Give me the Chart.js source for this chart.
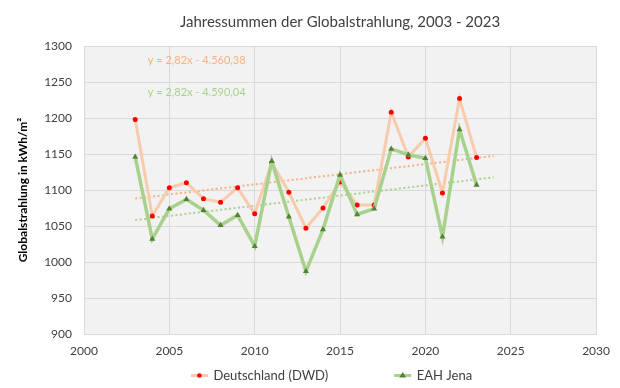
<!DOCTYPE html>
<html>
<head>
<meta charset="utf-8">
<script src="https://cdn.jsdelivr.net/npm/chart.js@4"></script>
<style>
  html, body { margin: 0; padding: 0; background: #fff; }
  #wrap { width: 620px; height: 388px; }
</style>
</head>
<body>
<div id="wrap"><canvas id="myChart" width="620" height="388"></canvas></div>
<script>
// values
var years = [2003, 2004, 2005, 2006, 2007, 2008, 2009, 2010, 2011, 2012, 2013,
             2014, 2015, 2016, 2017, 2018, 2019, 2020, 2021, 2022, 2023];
var dwd = [1198, 1064, 1103, 1110, 1088, 1083, 1103, 1067, 1138, 1097, 1047,
           1075, 1111, 1079, 1079, 1208, 1146, 1172, 1096, 1227, 1145];
var eah = [1146, 1032, 1074, 1087, 1072, 1051, 1065, 1022, 1140, 1063, 987,
           1045, 1121, 1066, 1074, 1157, 1149, 1144, 1035, 1184, 1107];
// linear trend lines (end points, from the equations shown)
var trendYears = [2003, 2024];
var dwdTrend = [1088.1, 1147.3];
var eahTrend = [1058.4, 1117.6];
var dwdEquation = 'y = 2,82x - 4.560,38';
var eahEquation = 'y = 2,82x - 4.590,04';
var xTicks = [2000, 2005, 2010, 2015, 2020, 2025, 2030];
var yTicks = [900, 950, 1000, 1050, 1100, 1150, 1200, 1250, 1300];

var font = 'Lato';
var colDwdLine = '#f8cbad', colDwdPoint = '#ff0000', colDwdTrend = '#f4b183';
var colEahLine = '#a9d18e', colEahPoint = '#548235', colEahTrend = '#a9d18e';
var legendBox = 76;

function pts(xs, ys){
    return xs.map(function(x, i){ return {x: x, y: ys[i]}; });
}

function triangle(c, x, y, r){
    c.beginPath();
    c.moveTo(x, y - r);
    c.lineTo(x + r * 0.95, y + r * 0.6);
    c.lineTo(x - r * 0.95, y + r * 0.6);
    c.closePath();
    c.fill();
}

//grey plot area, equation texts, legend symbols
var extras = {
    id: 'extras',
    beforeDraw: function(chart){
        var c = chart.ctx, a = chart.chartArea;
        c.save();
        c.fillStyle = '#f2f2f2';
        c.fillRect(a.left, a.top, a.right - a.left, a.bottom - a.top);
        c.restore();
    },
    afterDraw: function(chart){
        var c = chart.ctx, xs = chart.scales.x, ys = chart.scales.y;
        c.save();
        c.font = '11px ' + font;
        c.textAlign = 'center';
        c.textBaseline = 'middle';
        c.fillStyle = colDwdTrend;
        c.fillText(dwdEquation, xs.getPixelForValue(2006.6), ys.getPixelForValue(1280));
        c.fillStyle = colEahTrend;
        c.fillText(eahEquation, xs.getPixelForValue(2006.6), ys.getPixelForValue(1235));

        var boxes = chart.legend.legendHitBoxes;
        var lines = [colDwdLine, colEahLine], marks = [colDwdPoint, colEahPoint];
        boxes.forEach(function(b, i){
            var cy = b.top + b.height / 2;
            var x1 = b.left + legendBox + 1, x0 = x1 - 17, mx = (x0 + x1) / 2;
            c.strokeStyle = lines[i];
            c.lineWidth = 3;
            c.beginPath();
            c.moveTo(x0, cy);
            c.lineTo(x1, cy);
            c.stroke();
            c.fillStyle = marks[i];
            if (i === 0) {
                c.beginPath();
                c.arc(mx, cy, 2.3, 0, Math.PI * 2);
                c.fill();
            } else {
                triangle(c, mx, cy, 3.5);
            }
        });
        c.restore();
    }
};

var ctx = document.getElementById('myChart').getContext('2d');
var data = {
    datasets: [{
        label: 'Deutschland (DWD)',
        data: pts(years, dwd),
        borderColor: colDwdLine,
        backgroundColor: colDwdPoint,
        borderWidth: 3,
        pointStyle: 'circle',
        pointRadius: 2.5,
        pointBorderWidth: 0,
        pointBackgroundColor: colDwdPoint,
        order: 2
    },
    {
        label: 'EAH Jena',
        data: pts(years, eah),
        borderColor: colEahLine,
        backgroundColor: colEahPoint,
        borderWidth: 3.5,
        pointStyle: 'triangle',
        pointRadius: 3.5,
        pointBorderWidth: 0,
        pointBackgroundColor: colEahPoint,
        order: 1
    },
    {
        label: 'trendDwd',
        data: pts(trendYears, dwdTrend),
        borderColor: colDwdTrend,
        borderWidth: 2,
        borderDash: [2, 2.5],
        pointRadius: 0,
        order: 3
    },
    {
        label: 'trendEah',
        data: pts(trendYears, eahTrend),
        borderColor: colEahTrend,
        borderWidth: 2,
        borderDash: [2, 2.5],
        pointRadius: 0,
        order: 3
    }]
};
var options = {
    responsive: false,
    animation: false,
    layout: {padding: {left: 4, right: 21, top: 0, bottom: -4}},
    plugins: {
        title: {
            display: true,
            fullSize: false,
            text: 'Jahressummen der Globalstrahlung, 2003 - 2023',
            color: '#404040',
            font: {family: font, size: 15, weight: 'normal'},
            padding: {top: 13, bottom: 15}
        },
        legend: {
            position: 'bottom',
            labels: {
                boxWidth: legendBox,
                boxHeight: 8,
                padding: 6,
                color: '#404040',
                font: {family: font, size: 13},
                sort: function(a, b){ return a.datasetIndex - b.datasetIndex; },
                generateLabels: function(chart){
                    var items = Chart.defaults.plugins.legend.labels.generateLabels(chart);
                    return items.filter(function(it){ return it.datasetIndex < 2; }).map(function(it){
                        it.fillStyle = 'rgba(0,0,0,0)';
                        it.strokeStyle = 'rgba(0,0,0,0)';
                        it.lineWidth = 0;
                        return it;
                    });
                }
            }
        },
        tooltip: {enabled: false}
    },
    scales: {
        x: {
            type: 'linear',
            min: 2000, max: 2030,
            afterBuildTicks: function(s){ s.ticks = xTicks.map(function(v){ return {value: v}; }); },
            afterFit: function(s){ s.height = 29; },
            ticks: {color: '#404040', font: {family: font, size: 12}, padding: 10,
                    callback: function(v){ return String(v); }},
            grid: {color: '#d9d9d9', drawTicks: false},
            border: {color: '#d9d9d9'}
        },
        y: {
            min: 900, max: 1300,
            afterBuildTicks: function(s){ s.ticks = yTicks.map(function(v){ return {value: v}; }); },
            afterFit: function(s){ s.width = 80; },
            ticks: {color: '#404040', font: {family: font, size: 12}, padding: 12,
                    callback: function(v){ return String(v); }},
            grid: {color: '#d9d9d9', drawTicks: false},
            border: {color: '#d9d9d9'},
            title: {
                display: true,
                text: 'Globalstrahlung in kWh/m²',
                color: '#000',
                font: {family: font, size: 12, weight: 'bold'},
                padding: {top: 12, bottom: 0}
            }
        }
    }
};
var chart = new Chart(ctx, {type: 'line', data: data, options: options, plugins: [extras]});
</script>
</body>
</html>
